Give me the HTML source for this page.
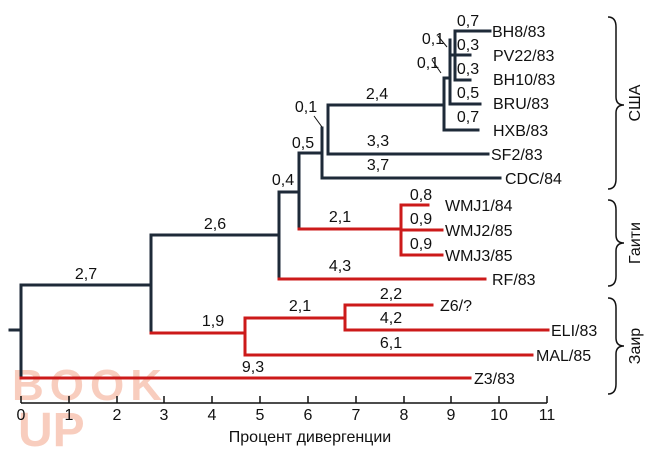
<!DOCTYPE html>
<html><head><meta charset="utf-8"><style>
body{margin:0;background:#fff}
svg text{font-family:"Liberation Sans",sans-serif;font-size:16px;fill:#111}
</style></head><body>
<svg width="650" height="450" viewBox="0 0 650 450" xmlns="http://www.w3.org/2000/svg">
<g opacity="0.55">
<text x="12" y="400" style="font-size:44px;font-weight:bold;fill:#f4a58a" textLength="150">BOOK</text>
<text x="18" y="446" style="font-size:48px;font-weight:bold;fill:#f4a58a">UP</text>
</g>
<g fill="none" stroke-width="3" stroke-linecap="square">
<g stroke="#1e2a38">
<path d="M10 330H21M21 285V378M21 285H151M151 235V333M151 235H279M279 192V279M279 192H299M299 153V229M299 153H322M322 128V178M322 178H500M328 105V154M328 154H488M328 105H444M444 78V130M444 130H478M444 78H450M450 40V104M450 104H480M450 55H455M455 31V80M455 31H490M455 55H470M455 80H470"/>
</g>
<g stroke="#cc1a1a">
<path d="M299 229H401M401 205V255M401 205H428M401 230H442M401 255H442M279 279H485M151 333H245M245 318V355M245 318H345M345 305V330M345 305H432M345 330H548M245 355H532M21 378H470"/>
</g>
</g>
<g stroke="#111" stroke-width="1.5" fill="none">
<path d="M21 403H547"/>
<path d="M21 396V403M69 396V403M117 396V403M164 396V403M212 396V403M260 396V403M308 396V403M356 396V403M404 396V403M451 396V403M499 396V403M547 396V403"/>
<path d="M608 17q8 0 8 10v70q0 8 8 8q-8 0-8 8v66q0 10-8 10M608 200q8 0 8 10v25q0 8 8 8q-8 0-8 8v25q0 10-8 10M608 298q8 0 8 10v30q0 8 8 8q-8 0-8 8v30q0 10-8 10"/>
<path d="M438 36L447 47M432 60L441 73M314 116L322 127" stroke-width="1"/>
</g>
<g text-anchor="middle">
<text x="21" y="420">0</text><text x="69" y="420">1</text><text x="117" y="420">2</text><text x="164" y="420">3</text><text x="212" y="420">4</text><text x="260" y="420">5</text><text x="308" y="420">6</text><text x="356" y="420">7</text><text x="404" y="420">8</text><text x="451" y="420">9</text><text x="499" y="420">10</text><text x="547" y="420">11</text>
<text x="310" y="442">Процент дивергенции</text>
<text x="86" y="279">2,7</text><text x="215" y="229">2,6</text><text x="283" y="185">0,4</text><text x="303" y="148">0,5</text><text x="306" y="112">0,1</text>
<text x="377" y="99">2,4</text><text x="378" y="146">3,3</text><text x="378" y="170">3,7</text>
<text x="340" y="222">2,1</text><text x="421" y="200">0,8</text><text x="421" y="224">0,9</text><text x="421" y="249">0,9</text>
<text x="340" y="271">4,3</text><text x="213" y="326">1,9</text><text x="300" y="311">2,1</text><text x="391" y="299">2,2</text><text x="391" y="323">4,2</text><text x="391" y="348">6,1</text><text x="253" y="372">9,3</text>
<text x="468" y="26">0,7</text><text x="468" y="50">0,3</text><text x="468" y="74">0,3</text><text x="468" y="98">0,5</text><text x="468" y="122">0,7</text>
<text x="433" y="44">0,1</text><text x="428" y="68">0,1</text>
</g>
<g>
<text x="492" y="37">BH8/83</text><text x="493" y="61">PV22/83</text><text x="493" y="85">BH10/83</text><text x="493" y="109">BRU/83</text><text x="493" y="136">HXB/83</text><text x="491" y="160">SF2/83</text><text x="505" y="184">CDC/84</text>
<text x="445" y="211">WMJ1/84</text><text x="445" y="236">WMJ2/85</text><text x="445" y="261">WMJ3/85</text><text x="492" y="285">RF/83</text>
<text x="440" y="311">Z6/?</text><text x="551" y="336">ELI/83</text><text x="536" y="361">MAL/85</text><text x="474" y="384">Z3/83</text>
<text transform="translate(640 103) rotate(-90)" text-anchor="middle">США</text>
<text transform="translate(640 243) rotate(-90)" text-anchor="middle">Гаити</text>
<text transform="translate(640 346) rotate(-90)" text-anchor="middle">Заир</text>
</g>
</svg>
</body></html>
